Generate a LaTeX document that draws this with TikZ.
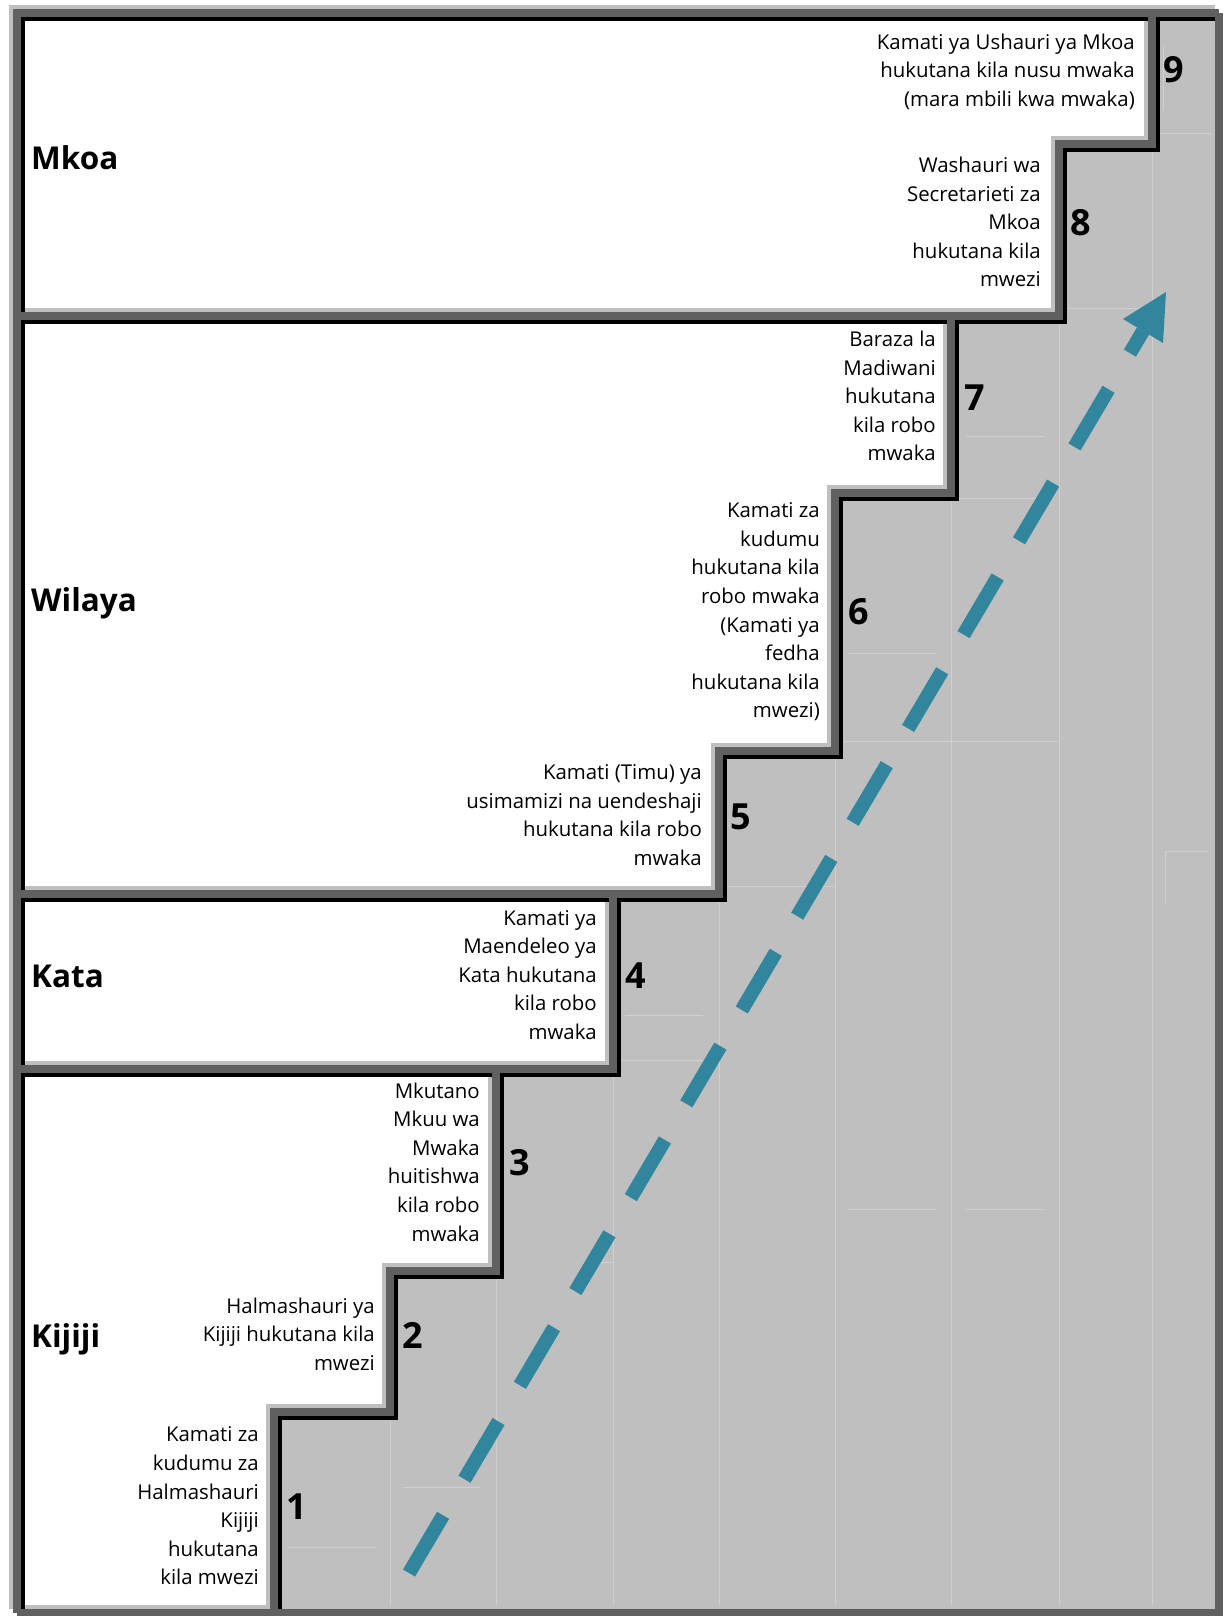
\documentclass[tikz,border=0pt]{standalone}
\usepackage{fontspec}
\setmainfont{Open Sans}
\definecolor{lightg}{HTML}{BFBFBF}
\definecolor{darkg}{HTML}{606060}
\definecolor{fillg}{HTML}{BFBFBF}
\definecolor{faintg}{HTML}{D0D0D0}
\definecolor{arrowc}{HTML}{31869E}
\newcommand\stairlines[1]{%
  \draw[#1] (1152,13.5) -- (1152,144) -- (1059,144) -- (1059,316) -- (951,316) -- (951,493) -- (835,493) -- (835,751) -- (719,751) -- (719,894) -- (613,894) -- (613,1069) -- (496,1069) -- (496,1271) -- (390,1271) -- (390,1412) -- (274,1412) -- (274,1613);
  \draw[#1] (16.5,316) -- (951,316);
  \draw[#1] (16.5,894) -- (613,894);
  \draw[#1] (16.5,1069) -- (496,1069);
  \draw[#1] (16.5,1613) -- (16.5,13.5) -- (1219,13.5);
}
\newcommand\framelines[1]{%
  \draw[#1] (1219,13.5) -- (1219,1613) -- (16.5,1613);
}
\tikzset{
  lgline/.style={draw=lightg, line width=8pt, shift={(-4,-4)}},
  bkline/.style={draw=black, line width=8pt, shift={(4,4)}},
  dgline/.style={draw=darkg, line width=8pt},
  faint/.style={draw=faintg, line width=1pt},
  body/.style={font=\fontsize{20.4}{28.6}\selectfont, align=right, inner sep=0pt, anchor=east},
  lvl/.style={font=\fontsize{31.5}{38}\selectfont\bfseries, inner sep=0pt, anchor=base west},
  num/.style={font=\fontsize{36}{40}\selectfont\bfseries, inner sep=0pt},
  flow/.style={draw=arrowc, line width=14pt, dash pattern=on 67pt off 42pt}
}
\begin{document}
\begin{tikzpicture}[x=1pt,y=-1pt]
\useasboundingbox (0,0) rectangle (1229,1616);
\fill[white] (0,0) rectangle (1229,1616);
% gray staircase region
\fill[fillg] (1152,13.5) -- (1219,13.5) -- (1219,1613) -- (274,1613) -- (274,1412) -- (390,1412) -- (390,1271) -- (496,1271) -- (496,1069) -- (613,1069) -- (613,894) -- (719,894) -- (719,751) -- (835,751) -- (835,493) -- (951,493) -- (951,316) -- (1059,316) -- (1059,144) -- (1152,144) -- cycle;
% faint cell lines
\foreach \xx/\yy in {1152/144,1059/316,951/493,835/751,719/894,613/1069,496/1271,390/1412}{
  \draw[faint] (\xx,\yy) -- (\xx,1609);
}
\draw[faint] (1163,45) -- (1163,110);
\draw[faint] (1157,134) -- (1213,134);
\draw[faint] (1063,308) -- (1149,308);
\draw[faint] (966,436) -- (1044,436);
\draw[faint] (959,498) -- (1044,498);
\draw[faint] (849,653) -- (937,653);
\draw[faint] (841,741) -- (1058,741);
\draw[faint] (1165,851) -- (1208,851);
\draw[faint] (1165,851) -- (1165,905);
\draw[faint] (717,886) -- (834,886);
\draw[faint] (625,1015) -- (703,1015);
\draw[faint] (619,1060) -- (703,1060);
\draw[faint] (848,1209) -- (937,1209);
\draw[faint] (966,1209) -- (1043,1209);
\draw[faint] (600,1262) -- (613,1262);
\draw[faint] (403,1487) -- (480,1487);
\draw[faint] (287,1547) -- (375,1547);
% borders: light, black, dark layers
\stairlines{lgline}
\framelines{lgline}
\stairlines{bkline}
\stairlines{dgline}
\framelines{dgline}
% texts
\node[body] (t9) at (1135,71.5) {Kamati ya Ushauri ya Mkoa\\hukutana kila nusu mwaka\\(mara mbili kwa mwaka)};
\node[body] (t8) at (1041,222) {Washauri wa\\Secretarieti za\\Mkoa\\hukutana kila\\mwezi};
\node[body] (t7) at (936,396) {Baraza la\\Madiwani\\hukutana\\kila robo\\mwaka};
\node[body] (t6) at (820,612) {Kamati za\\kudumu\\hukutana kila\\robo mwaka\\(Kamati ya\\fedha\\hukutana kila\\mwezi)};
\node[body] (t5) at (702,815) {Kamati (Timu) ya\\usimamizi na uendeshaji\\hukutana kila robo\\mwaka};
\node[body] (t4) at (597,975) {Kamati ya\\Maendeleo ya\\Kata hukutana\\kila robo\\mwaka};
\node[body] (t3) at (480,1162) {Mkutano\\Mkuu wa\\Mwaka\\huitishwa\\kila robo\\mwaka};
\node[body] (t2) at (375,1334) {Halmashauri ya\\Kijiji hukutana kila\\mwezi};
\node[body] (t1) at (259,1506) {Kamati za\\kudumu za\\Halmashauri\\Kijiji\\hukutana\\kila mwezi};
% level labels
\node[lvl] (mkoa) at (31,170) {Mkoa};
\node[lvl] (wilaya) at (31,611) {Wilaya};
\node[lvl] (kata) at (31,987) {Kata};
\node[lvl] (kijiji) at (31,1347) {Kijiji};
% numbers
\node[num] (n9) at (1174,70) {9};
\node[num] (n8) at (1081,223) {8};
\node[num] (n7) at (975,398) {7};
\node[num] (n6) at (859,612) {6};
\node[num] (n5) at (741,817) {5};
\node[num] (n4) at (636,976) {4};
\node[num] (n3) at (520,1163) {3};
\node[num] (n2) at (413,1335) {2};
\node[num] (n1) at (297,1507) {1};
% arrow
\coordinate (as) at (409,1573);
\coordinate (ab) at (1143,331);
\coordinate (at) at (1166,292);
\coordinate (ac1) at (1163,343);
\coordinate (ac2) at (1123,319);
\draw[flow] (as) -- (ab);
\fill[arrowc] (at) -- (ac1) -- (ac2) -- cycle;
\end{tikzpicture}
\end{document}
